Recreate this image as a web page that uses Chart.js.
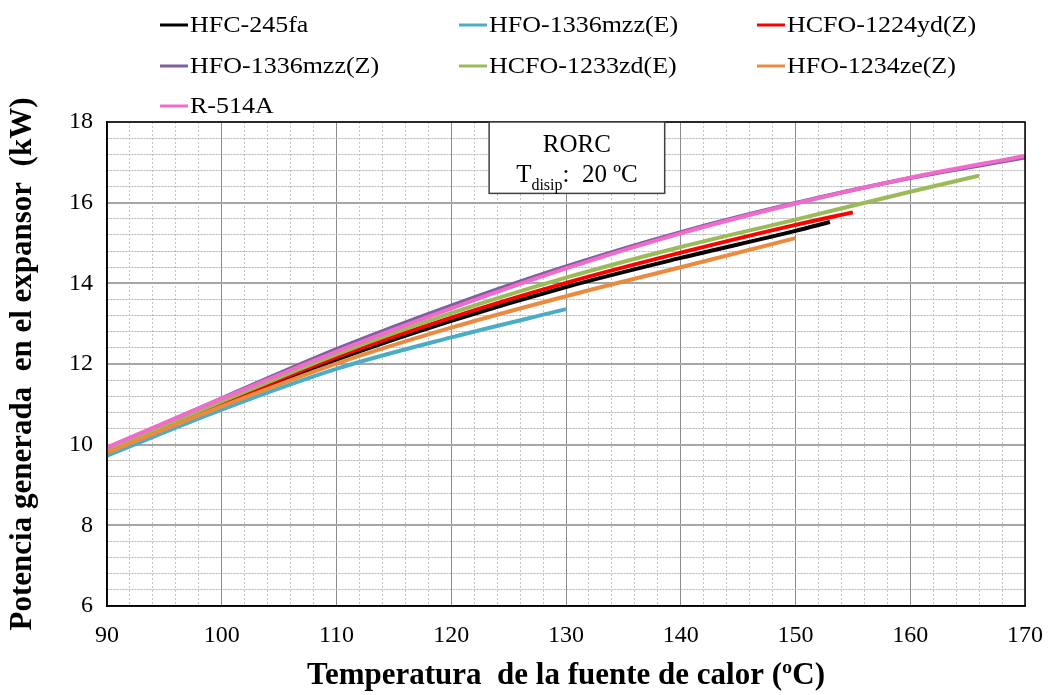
<!DOCTYPE html>
<html>
<head>
<meta charset="utf-8">
<script src="https://cdn.jsdelivr.net/npm/chart.js@4.4.1/dist/chart.umd.min.js"></script>
<style>
  html, body { margin: 0; padding: 0; background: #ffffff; }
  #wrap { width: 1049px; height: 695px; position: relative; }
</style>
</head>
<body>
<div id="wrap"><canvas id="c" width="1049" height="695"></canvas></div>
<script>
// Potencia generada en el expansor (kW) vs temperatura de la fuente de calor (ºC)
const seriesNames = ['HFC-245fa', 'HFO-1336mzz(E)', 'HCFO-1224yd(Z)', 'HFO-1336mzz(Z)', 'HCFO-1233zd(E)', 'HFO-1234ze(Z)', 'R-514A'];
const seriesColors = ['#000000', '#4bacc6', '#ff0000', '#7f5fa0', '#9bbb59', '#ea8b42', '#f06bcb'];

const tHFC245fa = [90, 100, 110, 120, 130, 140, 150, 153];
const pHFC245fa = [9.83, 11.00, 12.11, 13.07, 13.91, 14.63, 15.30, 15.52];

const tHFO1336mzzE = [90, 100, 110, 120, 130];
const pHFO1336mzzE = [9.73, 10.87, 11.88, 12.66, 13.36];

const tHCFO1224ydZ = [90, 100, 110, 120, 130, 140, 150, 155];
const pHCFO1224ydZ = [9.85, 11.03, 12.17, 13.15, 14.01, 14.76, 15.45, 15.76];

const tHFO1336mzzZ = [90, 100, 110, 120, 130, 140, 150, 160, 170];
const pHFO1336mzzZ = [9.90, 11.15, 12.37, 13.45, 14.42, 15.27, 15.99, 16.61, 17.12];

const tHCFO1233zdE = [90, 100, 110, 120, 130, 140, 150, 160, 166];
const pHCFO1233zdE = [9.87, 11.07, 12.24, 13.26, 14.14, 14.90, 15.58, 16.27, 16.67];

const tHFO1234zeZ = [90, 100, 110, 120, 130, 140, 150];
const pHFO1234zeZ = [9.80, 10.95, 12.01, 12.90, 13.68, 14.40, 15.12];

const tR514A = [90, 100, 110, 120, 130, 140, 150, 160, 170];
const pR514A = [9.93, 11.14, 12.31, 13.38, 14.37, 15.24, 15.98, 16.62, 17.16];

const seriesT = [tHFC245fa, tHFO1336mzzE, tHCFO1224ydZ, tHFO1336mzzZ, tHCFO1233zdE, tHFO1234zeZ, tR514A];
const seriesP = [pHFC245fa, pHFO1336mzzE, pHCFO1224ydZ, pHFO1336mzzZ, pHCFO1233zdE, pHFO1234zeZ, pR514A];

const xTickLabels = [90, 100, 110, 120, 130, 140, 150, 160, 170];
const yTickLabels = [6, 8, 10, 12, 14, 16, 18];

const xTitle = 'Temperatura  de la fuente de calor (ºC)';
const yTitle = 'Potencia generada  en el expansor  (kW)';
const boxTitle = 'RORC';
const boxSub = ['T', 'disip', ':  20 ºC'];

const SERIF = '"Liberation Serif", "Times New Roman", serif';

const datasets = seriesNames.map((name, i) => ({
  label: name,
  data: seriesT[i].map((t, k) => ({ x: t, y: seriesP[i][k] })),
  borderColor: seriesColors[i],
  backgroundColor: seriesColors[i],
  borderWidth: 4,
  pointRadius: 0,
  fill: false,
  cubicInterpolationMode: 'monotone',
  order: seriesNames.length - 1 - i
}));

const isMajor = (v, step) => Math.abs(v / step - Math.round(v / step)) < 1e-6;

// Frame, legend and the RORC label box
const decorations = {
  id: 'decorations',
  afterDatasetsDraw(chart) {
    const { ctx, chartArea: a, scales } = chart;
    ctx.save();
    // plot frame
    ctx.strokeStyle = '#000000';
    ctx.lineWidth = 1.5;
    ctx.strokeRect(a.left, a.top, a.right - a.left, a.bottom - a.top);

    // label box
    const bx0 = scales.x.getPixelForValue(123.3);
    const bx1 = scales.x.getPixelForValue(138.6);
    const by1 = scales.y.getPixelForValue(16.23);
    ctx.fillStyle = '#ffffff';
    ctx.fillRect(bx0, a.top, bx1 - bx0, by1 - a.top);
    ctx.strokeStyle = '#404040';
    ctx.lineWidth = 1.5;
    ctx.strokeRect(bx0, a.top, bx1 - bx0, by1 - a.top);
    const cx = (bx0 + bx1) / 2;
    ctx.fillStyle = '#000000';
    ctx.textBaseline = 'alphabetic';
    ctx.textAlign = 'center';
    ctx.font = '25px ' + SERIF;
    ctx.fillText(boxTitle, cx, a.top + 30);
    // second line: T with subscript
    const big = '25px ' + SERIF, small = '16px ' + SERIF;
    ctx.font = big; const w0 = ctx.measureText(boxSub[0]).width;
    ctx.font = small; const w1 = ctx.measureText(boxSub[1]).width;
    ctx.font = big; const w2 = ctx.measureText(boxSub[2]).width;
    let x = cx - (w0 + w1 + w2) / 2;
    const base = a.top + 60;
    ctx.textAlign = 'left';
    ctx.font = big; ctx.fillText(boxSub[0], x, base); x += w0;
    ctx.font = small; ctx.fillText(boxSub[1], x, base + 8); x += w1;
    ctx.font = big; ctx.fillText(boxSub[2], x, base);

    // legend, three columns, slightly widened text
    const colX = [160, 459, 757];
    const rowY = [25, 66, 106];
    const stretch = 1.13;
    ctx.font = '23px ' + SERIF;
    ctx.textBaseline = 'middle';
    chart.data.datasets.forEach((ds, i) => {
      const lx = colX[i % 3], ly = rowY[Math.floor(i / 3)];
      ctx.strokeStyle = ds.borderColor;
      ctx.lineWidth = 3;
      ctx.beginPath();
      ctx.moveTo(lx, ly);
      ctx.lineTo(lx + 28, ly);
      ctx.stroke();
      ctx.save();
      ctx.translate(lx + 30, ly + 1);
      ctx.scale(stretch, 1);
      ctx.fillStyle = '#000000';
      ctx.fillText(ds.label, 0, 0);
      ctx.restore();
    });
    ctx.restore();
  }
};

new Chart(document.getElementById('c'), {
  type: 'line',
  data: { datasets },
  options: {
    responsive: false,
    animation: false,
    events: [],
    layout: { padding: { left: 0, right: 24, top: 122, bottom: 0 } },
    plugins: { legend: { display: false }, tooltip: { enabled: false } },
    scales: {
      x: {
        type: 'linear',
        min: 90, max: 170,
        afterFit(scale) {
          scale.height = 89;
          scale.paddingLeft = 0;
          scale.paddingRight = 0;
        },
        ticks: {
          stepSize: 2,
          autoSkip: false,
          maxRotation: 0,
          padding: 15,
          color: '#000000',
          font: { family: SERIF, size: 24 },
          callback: (v) => (isMajor(v, 10) && xTickLabels.includes(v)) ? String(v) : ''
        },
        grid: {
          drawTicks: false,
          color: (c) => isMajor(c.tick.value, 10) ? '#8a8a8a' : '#c4c4c4',
          lineWidth: 1
        },
        border: {
          display: true, color: '#000000', width: 1.5,
          dash: (c) => (c.tick && !isMajor(c.tick.value, 10)) ? [2, 2] : []
        },
        title: {
          display: true, text: xTitle, color: '#000000',
          font: { family: SERIF, size: 31, weight: 'bold' },
          padding: { top: 0, bottom: 0 }
        }
      },
      y: {
        type: 'linear',
        min: 6, max: 18,
        afterFit(scale) {
          scale.width = 107;
          scale.paddingTop = 0;
          scale.paddingBottom = 0;
        },
        ticks: {
          stepSize: 0.4,
          autoSkip: false,
          padding: 14,
          color: '#000000',
          font: { family: SERIF, size: 24 },
          callback: (v) => (isMajor(v, 2) && yTickLabels.includes(Math.round(v))) ? String(Math.round(v)) : ''
        },
        grid: {
          drawTicks: false,
          color: (c) => isMajor(c.tick.value, 2) ? '#a6a6a6' : '#b4b4b4',
          lineWidth: (c) => isMajor(c.tick.value, 2) ? 2 : 1
        },
        border: {
          display: true, color: '#000000', width: 1.5,
          dash: (c) => (c.tick && !isMajor(c.tick.value, 2)) ? [2, 1] : []
        },
        title: {
          display: true, text: yTitle, color: '#000000',
          font: { family: SERIF, size: 31, weight: 'bold' },
          padding: { top: 4, bottom: 0 }
        }
      }
    }
  },
  plugins: [decorations]
});
</script>
</body>
</html>
